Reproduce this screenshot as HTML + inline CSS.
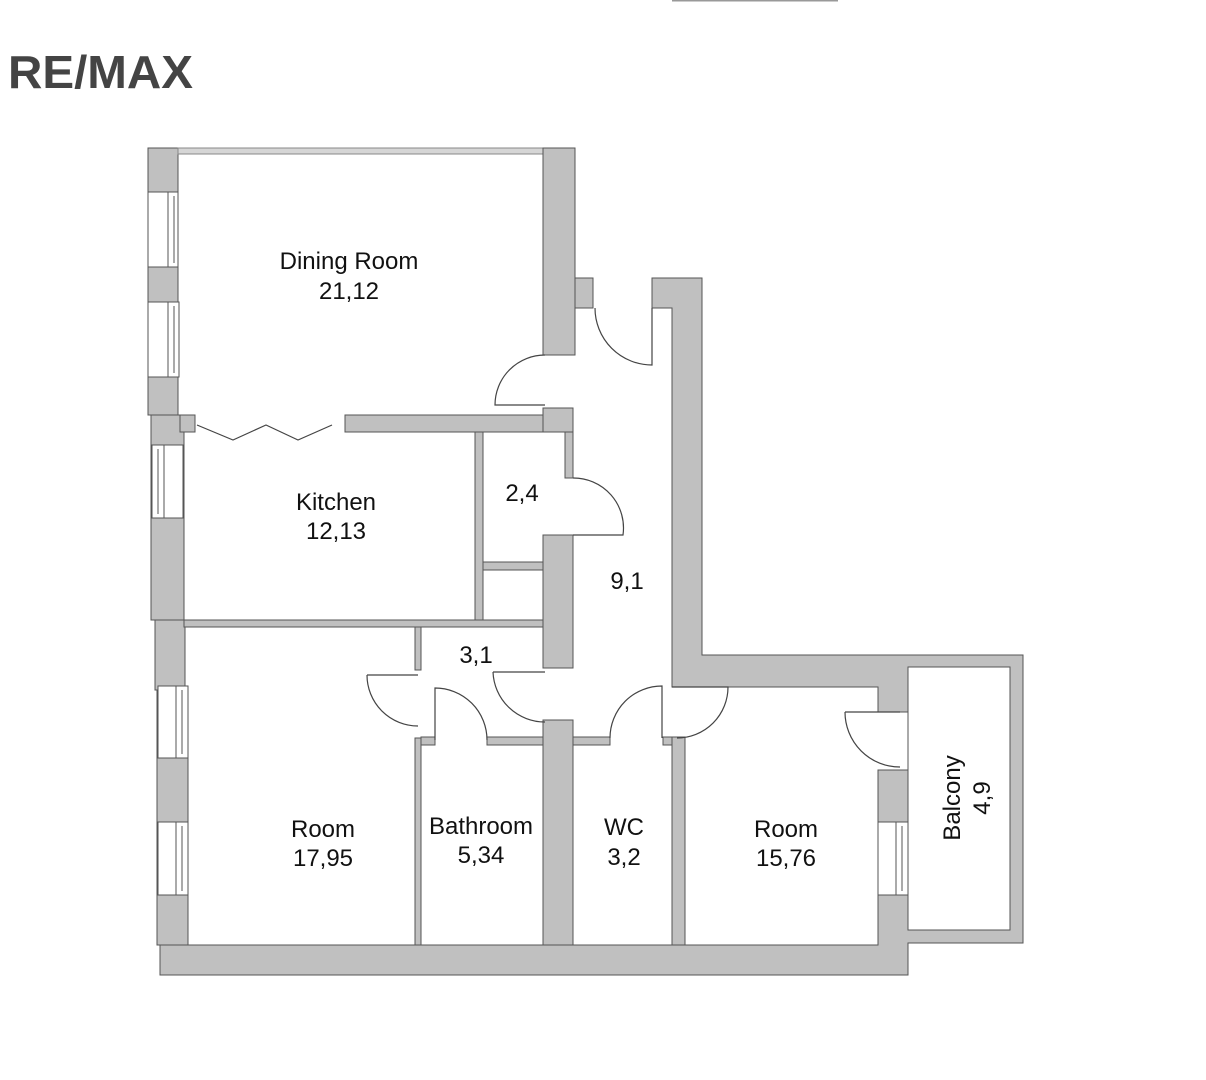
<!DOCTYPE html>
<html><head><meta charset="utf-8"><style>
html,body{margin:0;padding:0;background:#fff;}
svg{display:block;}
text{font-family:"Liberation Sans",sans-serif;font-size:24px;fill:#111;text-anchor:middle;}
</style></head><body>
<svg width="1206" height="1080" viewBox="0 0 1206 1080" xmlns="http://www.w3.org/2000/svg">
<rect x="672" y="0" width="166" height="1.5" fill="#999"/>
<text x="8" y="88" style="font-family:'Liberation Sans Narrow','Liberation Sans',sans-serif;font-size:46px;font-weight:bold;fill:#444;text-anchor:start" textLength="185" lengthAdjust="spacingAndGlyphs">RE/MAX</text>

<g fill="#c0c0c0" stroke="#555" stroke-width="1">
<rect x="148" y="148" width="30" height="267"/>
<rect x="151" y="415" width="33" height="205"/>
<rect x="155" y="620" width="30" height="70"/>
<rect x="157" y="690" width="31" height="255"/>
<rect x="178" y="148" width="367" height="6" fill="#d6d6d6" stroke="#888"/>
<rect x="543" y="148" width="32" height="207"/>
<rect x="575" y="278" width="18" height="30"/>
<path d="M652 278 H702 V655 H1023 V943 H908 V975 H160 V945 H878 V895 H878 V770 H908 V712 H878 V687 H672 V308 H652 Z"/>
<rect x="345" y="415" width="200" height="17"/>
<rect x="180" y="415" width="15" height="17"/>
<rect x="543" y="408" width="30" height="24"/>
<rect x="565" y="432" width="8" height="46"/>
<rect x="543" y="535" width="30" height="133"/>
<rect x="475" y="432" width="8" height="188"/>
<rect x="483" y="562" width="60" height="8"/>
<rect x="184" y="620" width="359" height="7"/>
<rect x="415" y="627" width="6" height="43"/>
<rect x="415" y="738" width="6" height="207"/>
<rect x="421" y="737" width="14" height="8"/>
<rect x="487" y="737" width="56" height="8"/>
<rect x="543" y="720" width="30" height="225"/>
<rect x="573" y="737" width="37" height="8"/>
<rect x="663" y="737" width="22" height="8"/>
<rect x="672" y="737" width="13" height="208"/>
</g>
<rect x="908" y="667" width="102" height="263" fill="#fff" stroke="#555"/>
<g fill="#fff" stroke="#555" stroke-width="1">
<rect x="148" y="192" width="30" height="75"/><line x1="168" y1="192" x2="168" y2="267"/><line x1="174" y1="196" x2="174" y2="263"/>
<rect x="148" y="302" width="31" height="75"/><line x1="168" y1="302" x2="168" y2="377"/><line x1="174" y1="306" x2="174" y2="373"/>
<rect x="152" y="445" width="31" height="73"/><line x1="164" y1="445" x2="164" y2="518"/><line x1="158" y1="449" x2="158" y2="514"/>
<rect x="158" y="686" width="30" height="72"/><line x1="176" y1="686" x2="176" y2="758"/><line x1="182" y1="690" x2="182" y2="754"/>
<rect x="158" y="822" width="30" height="73"/><line x1="176" y1="822" x2="176" y2="895"/><line x1="182" y1="826" x2="182" y2="891"/>
<rect x="878" y="822" width="30" height="73"/><line x1="896" y1="822" x2="896" y2="895"/><line x1="902" y1="826" x2="902" y2="891"/>
</g>
<g fill="none" stroke="#444" stroke-width="1.2">
<path d="M545 355 A50 50 0 0 0 495 405 H545"/>
<path d="M595 308 A57 57 0 0 0 652 365 V308"/>
<path d="M573 478 A50 50 0 0 1 623 535 H573"/>
<path d="M367 675 A51 51 0 0 0 418 726"/><line x1="367" y1="675" x2="418" y2="675"/>
<path d="M435 740 V688 A52 52 0 0 1 487 740"/>
<path d="M493 672 H545 M493 672 A52 52 0 0 0 545 722"/>
<path d="M662 738 V686 A52 52 0 0 0 610 738"/>
<path d="M672 687 H728 A51 51 0 0 1 677 738"/>
<path d="M845 712 H900 M845 712 A55 55 0 0 0 900 767"/>
<polyline points="197,425 233,440 266,425 298,440 332,425"/>
</g>
<text x="349" y="269">Dining Room</text><text x="349" y="299">21,12</text>
<text x="336" y="510">Kitchen</text><text x="336" y="539">12,13</text>
<text x="522" y="501">2,4</text>
<text x="627" y="589">9,1</text>
<text x="476" y="663">3,1</text>
<text x="323" y="837">Room</text><text x="323" y="866">17,95</text>
<text x="481" y="834">Bathroom</text><text x="481" y="863">5,34</text>
<text x="624" y="835">WC</text><text x="624" y="865">3,2</text>
<text x="786" y="837">Room</text><text x="786" y="866">15,76</text>
<text transform="translate(960,798) rotate(-90)">Balcony</text>
<text transform="translate(990,798) rotate(-90)">4,9</text>
</svg>
</body></html>
